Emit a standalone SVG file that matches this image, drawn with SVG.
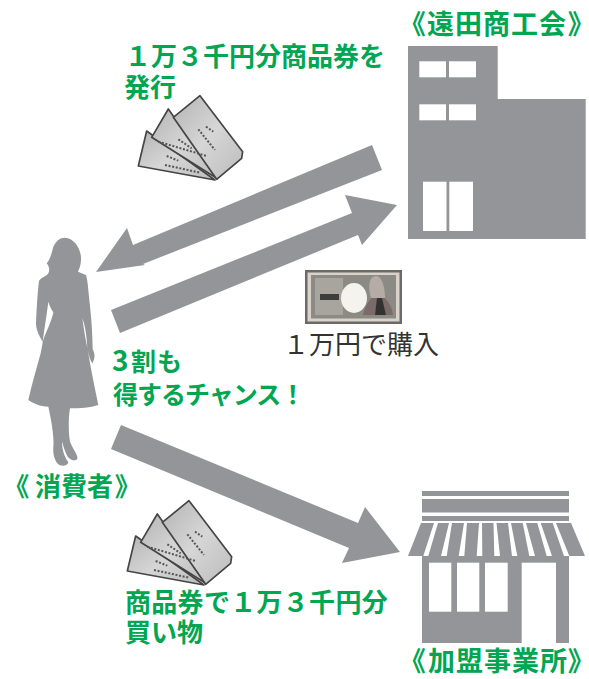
<svg xmlns="http://www.w3.org/2000/svg" width="589" height="679" viewBox="0 0 589 679">
<style>
.g{fill:#939598}
.w{fill:#fff}
text{font-family:"Noto Sans CJK JP","Liberation Sans",sans-serif}
.t{fill:#00a651;font-size:27px;font-weight:700}
.p{font-feature-settings:"palt"}
.b{fill:#00a651;font-size:25px;font-weight:700}
.n{fill:#00a651;font-size:26px;font-weight:700}
.k{fill:#333;font-size:26px;font-weight:400}
</style>
<defs>
<linearGradient id="tk" x1="0" y1="0" x2="1" y2="1"><stop offset="0" stop-color="#b4b4b4"/><stop offset=".5" stop-color="#d6d6d6"/><stop offset="1" stop-color="#bcbcbc"/></linearGradient>
<filter id="soft" x="-10%" y="-10%" width="120%" height="120%"><feGaussianBlur stdDeviation=".6"/></filter>
<g id="tickets" filter="url(#soft)" transform="scale(.3333)">
<polygon points="140,303 345,450 115,408" fill="url(#tk)" stroke="#444" stroke-width="5" stroke-linejoin="round"/>
<polygon points="205,237 350,445 155,322" fill="url(#tk)" stroke="#444" stroke-width="5" stroke-linejoin="round"/>
<polygon points="300,197 428,365 425,385 350,448 220,262" fill="url(#tk)" stroke="#444" stroke-width="5" stroke-linejoin="round"/>
<path d="M195,405 L300,428M200,378 L235,392M235,328 L275,355M175,335 L320,378M318,290 L340,305M295,298 L345,360" stroke="#555" stroke-width="6" stroke-dasharray="6 5" fill="none"/>
</g>
</defs>
<g id="connectors">
<polygon class="g" points="372,145 382,170 143,264 145,265 96,272 127,228 133,245"/>
<polygon class="g" points="111,310 352,213 345,195 397,205 362,245 358,235 120,333"/>
<polygon class="g" points="121,425 358,523 365,507 400,552 342,563 349,548 111,449"/>
</g>
<g id="node-shokokai">
<path class="g" d="M408,46H497.7V99H585.7V239H408Z"/>
<rect class="w" x="419.3" y="61.3" width="26.7" height="16"/>
<rect class="w" x="449" y="61.3" width="27" height="16"/>
<rect class="w" x="419.3" y="104.3" width="26.7" height="16"/>
<rect class="w" x="449" y="104.3" width="27" height="16"/>
<rect class="w" x="423" y="181.7" width="23.5" height="49.3"/>
<rect class="w" x="449.3" y="181.7" width="23.7" height="49.3"/>
<text class="t" y="34"><tspan class="p" x="412">《</tspan><tspan x="427 455 483 511 539">遠田商工会</tspan><tspan class="p" x="568">》</tspan></text>
</g>
<g id="node-consumer">
<path class="g" transform="translate(0,225) scale(.3333)" d="M195,38 C225,40 245,75 243,105 C242,125 236,135 234,140 L258,150 C264,170 265,200 268,225 C272,260 278,320 278,372 C284,385 287,395 277,415 C270,405 268,395 264,378 C272,430 285,490 295,540 C270,548 240,550 210,550 C205,580 205,620 210,650 C220,675 235,690 232,702 C225,710 212,705 203,695 C195,680 190,665 187,650 C185,665 190,690 205,712 C203,722 190,725 178,720 C165,710 158,690 160,665 C163,640 155,590 145,545 C120,545 100,535 85,525 C95,480 110,430 122,385 C125,370 128,355 128,350 C115,330 108,310 108,295 C110,250 113,200 117,168 C125,155 140,155 145,145 C150,135 148,125 140,115 C150,105 155,85 160,65 C168,48 180,38 195,38 Z M145,230 C140,270 132,320 128,350 C138,320 155,290 160,262 C152,250 148,240 145,230 Z M247,280 C250,300 255,335 262,368 C260,340 258,310 247,280 Z" fill-rule="evenodd"/>
<text class="t" y="496" style="font-size:26px"><tspan class="p" x="16">《</tspan><tspan x="35 61 87">消費者</tspan><tspan class="p" x="115">》</tspan></text>
</g>
<g id="node-store">
<rect class="g" x="422" y="491" width="147" height="5"/>
<rect class="g" x="422" y="499" width="147" height="13.5"/>
<rect class="g" x="422" y="516" width="147" height="5"/>
<polygon class="g" points="421,523 571,523 585,556 408,556"/>
<g class="w">
<polygon points="434,523 438,523 428.3,556 423.3,556"/>
<polygon points="449,523 452,523 446.7,556 441,556"/>
<polygon points="464,523 467,523 464.3,556 458.7,556"/>
<polygon points="479,523 482,523 482.3,556 476.7,556"/>
<polygon points="493.5,523 496.5,523 500,556 494.3,556"/>
<polygon points="508,523 511,523 517.3,556 512,556"/>
<polygon points="522.7,523 526,523 535,556 529.3,556"/>
<polygon points="537.3,523 540.7,523 552,556 546.7,556"/>
<polygon points="552.7,523 556,523 569.3,556 564,556"/>
</g>
<rect class="g" x="422" y="556" width="147" height="87"/>
<rect class="w" x="429" y="562.7" width="22.3" height="49"/>
<rect class="w" x="457" y="562.7" width="22.3" height="49"/>
<rect class="w" x="485" y="562.7" width="22.7" height="49"/>
<rect class="w" x="521.7" y="562.7" width="34.3" height="80.3"/>
<text class="t" y="671"><tspan class="p" x="412">《</tspan><tspan x="428 456 484 512 540">加盟事業所</tspan><tspan class="p" x="568">》</tspan></text>
</g>
<g id="tickets-top"><use href="#tickets" transform="translate(100,30)"/></g>
<g id="tickets-bottom"><use href="#tickets" transform="translate(89,435)"/></g>
<g id="banknote" filter="url(#soft)">
<rect x="305" y="270" width="97" height="54" fill="#6a6a66"/>
<rect x="307.5" y="272.5" width="92" height="49" fill="#d8d2ca"/>
<rect x="311" y="275" width="85" height="43.5" fill="#8c8a84"/>
<rect x="315" y="278" width="28" height="37" fill="#a8a59e"/>
<rect x="320" y="294" width="19" height="6" fill="#3c3c3c"/>
<ellipse cx="354" cy="298" rx="13" ry="15" fill="#f5f3ee"/>
<path d="M363,315 C365,305 370,299 373,297 L383,297 C388,300 392,307 393,315 Z" fill="#7a6a68"/>
<path d="M375,315 L377,298 L382,298 L386,315 Z" fill="#333"/>
<path d="M371,298 C367,285 370,276 376,276 C382,276 385,288 385,298 Z" fill="#b5aca6"/>
</g>
<g id="labels">
<text class="n" x="125" y="66">１万３千円分商品券を</text>
<text class="n" x="124" y="97">発行</text>
<text class="b" y="371"><tspan x="112" style="font-size:28px">3</tspan><tspan x="131 157">割も</tspan></text>
<text class="b" x="113" y="404" letter-spacing="-1">得するチャンス！</text>
<text class="k" x="283" y="354">１万円で購入</text>
<text class="n" x="125" y="612" letter-spacing=".3">商品券で１万３千円分</text>
<text class="n" x="125" y="642">買い物</text>
</g>
</svg>
